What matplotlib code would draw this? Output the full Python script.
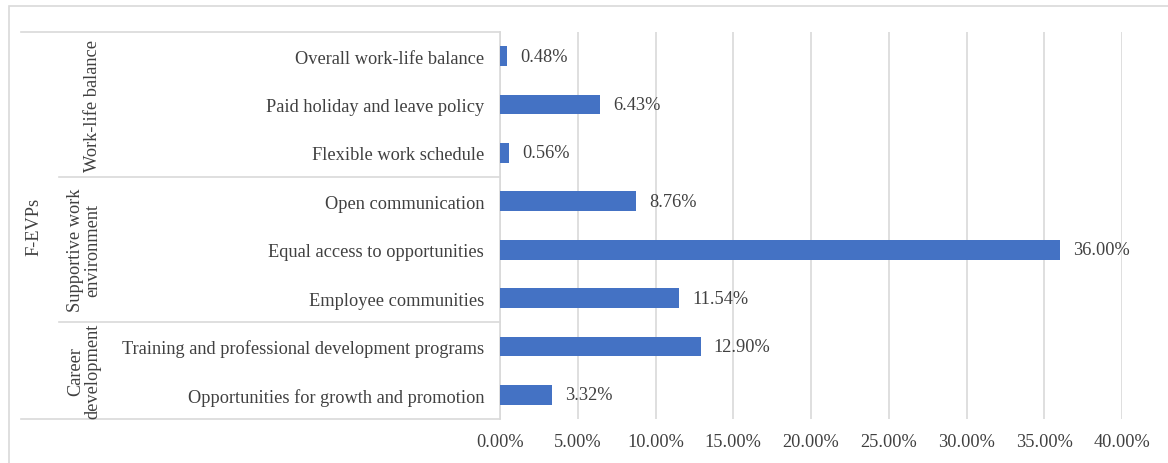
import matplotlib
matplotlib.use("agg")
import matplotlib.pyplot as plt
from matplotlib.patches import Rectangle
import matplotlib.transforms as mtransforms

# bottom-to-top order
labels = ["Opportunities for growth and promotion",
          "Training and professional development programs",
          "Employee communities",
          "Equal access to opportunities",
          "Open communication",
          "Flexible work schedule",
          "Paid holiday and leave policy",
          "Overall work-life balance"]
values = [3.32, 12.90, 11.54, 36.00, 8.76, 0.56, 6.43, 0.48]
groups = ["Career\ndevelopment", "Supportive work\nenvironment", "Work-life balance"]
group_spans = [(0, 1), (2, 4), (5, 7)]
xticks = [0, 5, 10, 15, 20, 25, 30, 35, 40]

plt.rcParams["font.family"] = ["Liberation Serif", "DejaVu Serif"]
txt = "#404040"
grid = "#d9d9d9"
fs = 13.2

W, H = 1168, 464
fig = plt.figure(figsize=(W / 100, H / 100), dpi=100)
ax = fig.add_axes([500 / W, 1 - 420 / H, 622 / W, 387 / H])

# outer chart border
fig.patches.append(Rectangle((9 / W, -0.1), 1.2, 1 - 7 / H + 0.1, transform=fig.transFigure,
                             fill=False, edgecolor=grid, lw=1.2))

ypos = list(range(len(labels)))
ax.barh(ypos, values, height=0.41, color="#4472C4", zorder=3)
for y, v in zip(ypos, values):
    ax.annotate("%.2f%%" % v, (v, y), xytext=(9.5, 0), textcoords="offset points",
                va="center", ha="left", fontsize=fs, color=txt)

ax.set_xlim(0, 40)
ax.set_ylim(-0.5, len(labels) - 0.5)
ax.set_xticks(xticks)
ax.set_xticklabels(["%.2f%%" % t for t in xticks], fontsize=fs, color=txt)
ax.set_yticks(ypos)
ax.set_yticklabels(labels, fontsize=fs, color=txt)
ax.tick_params(axis="both", length=0)
ax.tick_params(axis="y", pad=11.5)
ax.tick_params(axis="x", pad=10)
ax.grid(axis="x", color=grid, lw=1.2, zorder=0)
for s in ["top", "right", "bottom"]:
    ax.spines[s].set_visible(False)
ax.spines["left"].set_color(grid)
ax.spines["left"].set_linewidth(1.2)

# hierarchical category axis
tr = mtransforms.blended_transform_factory(ax.transAxes, ax.transData)
x_outer = (21 - 500) / 622
x_mid = (59 - 500) / 622
line_kw = dict(transform=tr, clip_on=False, color=grid, lw=1.2)
ax.plot([x_outer, 0], [7.5, 7.5], **line_kw)
ax.plot([x_outer, 0], [-0.5, -0.5], **line_kw)
ax.plot([x_mid, 0], [4.5, 4.5], **line_kw)
ax.plot([x_mid, 0], [1.5, 1.5], **line_kw)

x_grp = (101 - 500) / 622
for name, (a, b) in zip(groups, group_spans):
    ax.text(x_grp, (a + b) / 2, name, transform=tr, rotation=90, ha="right", va="center",
            fontsize=fs, color=txt, linespacing=1.0, multialignment="center")
ax.text((34 - 500) / 622, 3.5, "F-EVPs", transform=tr, rotation=90, ha="center", va="center",
        fontsize=fs, color=txt)

fig.savefig("out.png", dpi=100)
